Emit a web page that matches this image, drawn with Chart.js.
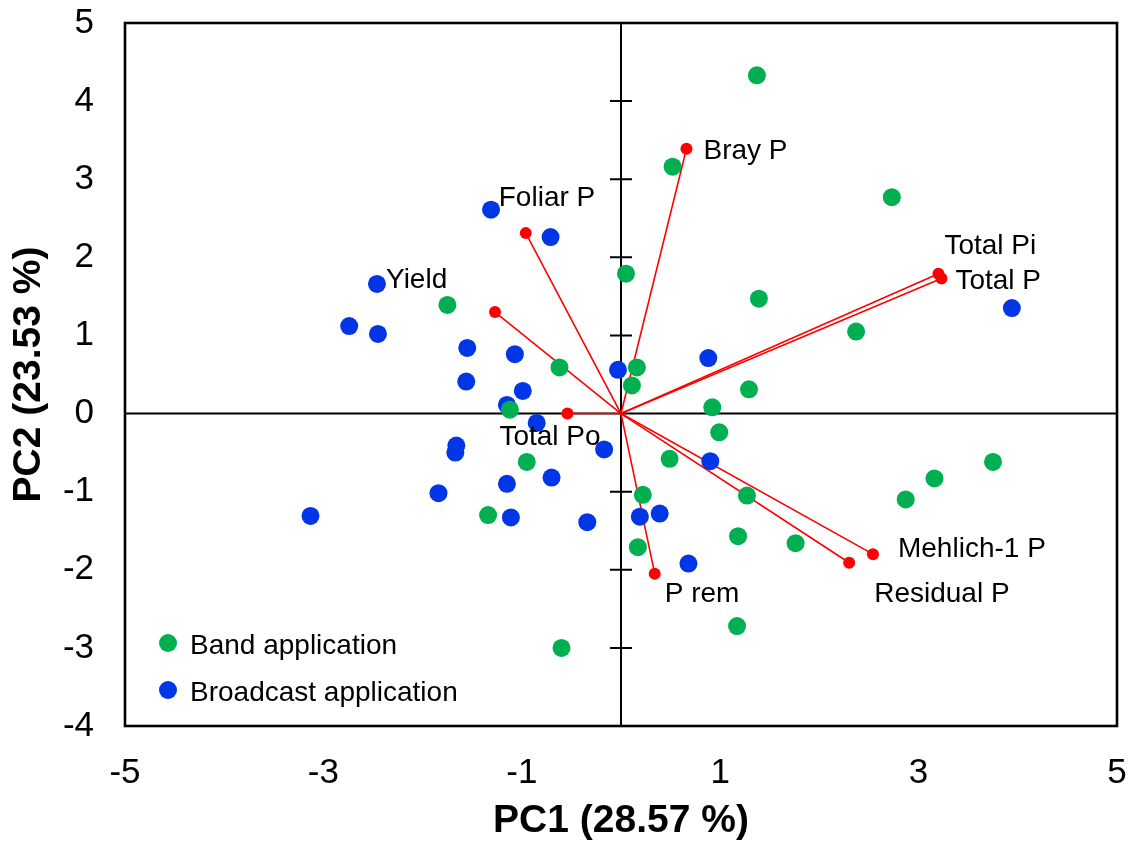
<!DOCTYPE html>
<html>
<head>
<meta charset="utf-8">
<title>PCA biplot</title>
<script src="https://cdn.jsdelivr.net/npm/chart.js@4.4.1/dist/chart.umd.min.js"></script>
<style>
  html, body { margin: 0; padding: 0; background: #ffffff; }
  #wrap { width: 1132px; height: 845px; position: relative; }
</style>
</head>
<body>
<div id="wrap"><canvas id="biplot"></canvas></div>
<script>
// Sample scores on the first two principal components
const bandPC1 = [1.37, 0.52, 2.73, 0.05, 1.39, -1.75, 2.37, -0.62, 0.16, 0.11, 1.29, 0.92, -1.12, 0.99,
                 -0.95, 0.49, 3.75, 3.16, 2.87, 0.22, 1.27, -1.34, 1.18, 1.76, 0.17, 1.17, -0.60];
const bandPC2 = [4.33, 3.16, 2.77, 1.79, 1.47, 1.39, 1.05, 0.59, 0.59, 0.36, 0.31, 0.08, 0.05, -0.24,
                 -0.62, -0.58, -0.62, -0.83, -1.10, -1.04, -1.05, -1.30, -1.57, -1.66, -1.71, -2.72, -3.00];

const broadcastPC1 = [-1.31, -0.71, -2.46, -2.74, -2.45, -1.55, -1.07, -1.56, -0.99, -1.15, -0.85, -0.03, 0.88, 3.94,
                      -1.66, -1.67, -0.17, 0.90, -1.15, -0.70, -1.84, -3.13, -1.11, -0.34, 0.19, 0.39, 0.68];
const broadcastPC2 = [2.61, 2.26, 1.66, 1.12, 1.02, 0.84, 0.76, 0.41, 0.29, 0.11, -0.12, 0.56, 0.71, 1.35,
                      -0.41, -0.50, -0.46, -0.61, -0.90, -0.82, -1.02, -1.31, -1.33, -1.39, -1.32, -1.28, -1.92];

// Variable loadings (vector tips)
const variables = ['Bray P', 'Foliar P', 'Yield', 'Total Pi', 'Total P', 'Total Po', 'Mehlich-1 P', 'Residual P', 'P rem'];
const loadPC1 = [0.66, -0.96, -1.27, 3.20, 3.23, -0.54, 2.54, 2.30, 0.34];
const loadPC2 = [3.39, 2.31, 1.30, 1.79, 1.73, 0.00, -1.80, -1.91, -2.05];

// Axis ranges and tick spacing
const xRange = [-5, 5], xStep = 2;
const yRange = [-4, 5], yStep = 1;

// Series names
const groupNames = ['Band application', 'Broadcast application'];

// ---- styling ----
const FONT = '"Liberation Sans", Arial, Helvetica, sans-serif';
const GREEN = '#00b050';
const BLUE = '#0036e6';
const RED = '#ff0000';

// pixel offsets of each variable's name from its vector tip
const labelOffset = {
  'Bray P': [17, 3], 'Foliar P': [-27, -35], 'Yield': [-109, -32], 'Total Pi': [6, -27],
  'Total P': [14, 3], 'Total Po': [-68, 24], 'Mehlich-1 P': [25, -5], 'Residual P': [25, 32], 'P rem': [10, 21]
};

const toPoints = (xs, ys) => xs.map((x, i) => ({ x: x, y: ys[i] }));

const datasets = [
  { label: groupNames[0], data: toPoints(bandPC1, bandPC2), backgroundColor: GREEN, borderColor: GREEN,
    pointRadius: 9, pointHoverRadius: 9, borderWidth: 0, order: 0 },
  { label: groupNames[1], data: toPoints(broadcastPC1, broadcastPC2), backgroundColor: BLUE, borderColor: BLUE,
    pointRadius: 9, pointHoverRadius: 9, borderWidth: 0, order: 0 }
];
variables.forEach((name, i) => {
  datasets.push({
    label: name,
    data: [{ x: 0, y: 0 }, { x: loadPC1[i], y: loadPC2[i] }],
    showLine: true, borderColor: RED, borderWidth: 1.6,
    backgroundColor: RED, pointBackgroundColor: RED, pointBorderWidth: 0,
    pointRadius: [0, 6], pointHoverRadius: [0, 6], order: 1
  });
});

// frame, zero axes with cross ticks
const framePlugin = {
  id: 'frameAndZeroAxes',
  beforeDatasetsDraw(chart) {
    const { ctx, chartArea: a, scales: { x, y } } = chart;
    ctx.save();
    ctx.strokeStyle = '#000';
    ctx.lineWidth = 2;
    const x0 = x.getPixelForValue(0), y0 = y.getPixelForValue(0);
    ctx.beginPath();
    ctx.moveTo(a.left, y0); ctx.lineTo(a.right, y0);
    ctx.moveTo(x0, a.top); ctx.lineTo(x0, a.bottom);
    for (let v = yRange[0] + 1; v < yRange[1]; v += yStep) {
      if (v === 0) continue;
      const py = y.getPixelForValue(v);
      ctx.moveTo(x0 - 11, py); ctx.lineTo(x0 + 11, py);
    }
    ctx.stroke();
    ctx.lineWidth = 2.6;
    ctx.strokeRect(a.left, a.top, a.right - a.left, a.bottom - a.top);
    ctx.restore();
  }
};

// variable names next to vector tips, and the legend in the lower-left corner
const textPlugin = {
  id: 'vectorLabelsAndLegend',
  afterDatasetsDraw(chart) {
    const { ctx, chartArea: a, scales: { x, y } } = chart;
    ctx.save();
    ctx.font = '28px ' + FONT;
    ctx.fillStyle = '#000';
    ctx.textAlign = 'left';
    ctx.textBaseline = 'middle';
    variables.forEach((name, i) => {
      const off = labelOffset[name];
      ctx.fillText(name, x.getPixelForValue(loadPC1[i]) + off[0], y.getPixelForValue(loadPC2[i]) + off[1]);
    });
    // legend
    const rows = [a.bottom - 83, a.bottom - 36];
    [0, 1].forEach((k) => {
      const ds = chart.data.datasets[k];
      ctx.beginPath();
      ctx.fillStyle = ds.backgroundColor;
      ctx.arc(a.left + 43, rows[k], 9, 0, Math.PI * 2);
      ctx.fill();
      ctx.fillStyle = '#000';
      ctx.fillText(ds.label, a.left + 65, rows[k] + 3);
    });
    ctx.restore();
  }
};

new Chart(document.getElementById('biplot'), {
  type: 'scatter',
  data: { datasets: datasets },
  options: {
    responsive: true,
    maintainAspectRatio: false,
    animation: false,
    devicePixelRatio: 1,
    layout: { padding: { left: 0, right: 15, top: 23, bottom: 0 } },
    plugins: {
      legend: { display: false },
      tooltip: { enabled: false }
    },
    scales: {
      x: {
        type: 'linear', position: 'bottom',
        min: xRange[0], max: xRange[1],
        grid: { display: false, drawTicks: false },
        border: { display: false },
        ticks: { stepSize: xStep, padding: 26, color: '#000', font: { family: FONT, size: 35 } },
        title: { display: true, text: 'PC1 (28.57 %)', color: '#000', padding: { top: 0, bottom: 0 },
                 font: { family: FONT, size: 39, weight: 'bold' } },
        afterFit(scale) {
          scale.height = 119;
          scale.paddingLeft = 0; scale.paddingRight = 0;
        }
      },
      y: {
        type: 'linear', position: 'left',
        min: yRange[0], max: yRange[1],
        grid: { display: false, drawTicks: false },
        border: { display: false },
        ticks: { stepSize: yStep, padding: 31, color: '#000', font: { family: FONT, size: 35 } },
        title: { display: true, text: 'PC2 (23.53 %)', color: '#000', padding: { top: 6, bottom: 0 },
                 font: { family: FONT, size: 39, weight: 'bold' } },
        afterFit(scale) {
          scale.width = 125;
          scale.paddingTop = 0; scale.paddingBottom = 0;
        }
      }
    }
  },
  plugins: [framePlugin, textPlugin]
});
</script>
</body>
</html>
